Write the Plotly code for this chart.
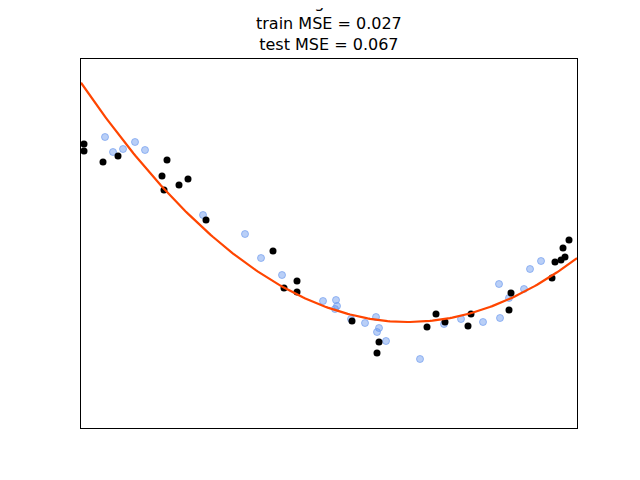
import numpy as np
import plotly.graph_objects as go

# points (pixel positions inside the axes box)
train_px = [104, 112, 122, 134, 144, 202, 244, 260, 281, 322, 335, 334, 336, 350, 364, 375, 376, 378, 385, 419, 443, 460, 482, 498, 499, 508, 523, 529, 540]
train_py = [136, 151, 148, 141, 149, 214, 233, 257, 274, 300, 299, 308, 305, 318, 322, 316, 331, 327, 340, 358, 323, 318, 321, 283, 317, 297, 288, 268, 260]
test_px = [83, 83, 102, 117, 161, 163, 166, 178, 187, 205, 272, 283, 296, 296, 351, 376, 378, 426, 435, 444, 467, 470, 508, 510, 551, 554, 560, 562, 564, 568]
test_py = [143, 150, 161, 155, 175, 189, 159, 184, 178, 219, 250, 287, 280, 291, 320, 352, 341, 326, 313, 321, 325, 313, 309, 292, 277, 261, 259, 247, 256, 239]
curve_px = [80, 150, 200, 250, 300, 350, 407, 450, 500, 550, 576]
curve_py = [82, 173, 225, 266, 295, 314, 321, 317, 302, 275, 257]


def to_x(p):
    return (np.array(p) - 80) / 496


def to_y(p):
    return (427 - np.array(p)) / 369


coef = np.polyfit(to_x(curve_px), to_y(curve_py), 2)
xs = np.linspace(0, 1, 200)

fig = go.Figure()
fig.add_scatter(x=to_x(train_px), y=to_y(train_py), mode="markers",
                marker=dict(size=7, color="rgba(100,149,237,0.45)",
                            line=dict(color="rgba(100,149,237,0.6)", width=1)))
fig.add_scatter(x=to_x(test_px), y=to_y(test_py), mode="markers",
                marker=dict(size=7, color="black"))
fig.add_scatter(x=xs, y=np.polyval(coef, xs), mode="lines",
                line=dict(color="#ff4500", width=2.2))

fig.update_xaxes(range=[0, 1], showticklabels=False, ticks="", showgrid=False,
                 zeroline=False, showline=True, linecolor="black", mirror=True)
fig.update_yaxes(range=[0, 1], showticklabels=False, ticks="", showgrid=False,
                 zeroline=False, showline=True, linecolor="black", mirror=True)
fig.add_annotation(text="Degree 2<br>train MSE = 0.027<br>test MSE = 0.067",
                   xref="paper", yref="paper", x=0.5, y=1, xanchor="center",
                   yanchor="bottom", yshift=3, showarrow=False,
                   font=dict(family="DejaVu Sans", size=16, color="black"))
fig.update_layout(width=640, height=480, showlegend=False,
                  margin=dict(l=73, r=71, t=51, b=60),
                  plot_bgcolor="white", paper_bgcolor="white")
fig.write_html("out.html")
